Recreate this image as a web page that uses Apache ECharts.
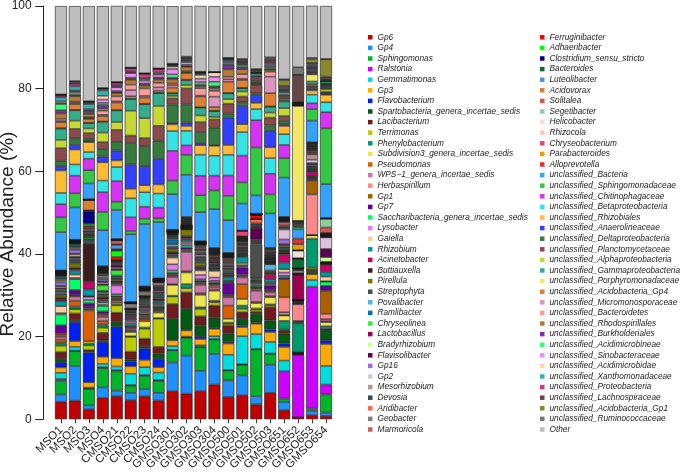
<!DOCTYPE html>
<html><head><meta charset="utf-8">
<script src="https://cdn.jsdelivr.net/npm/echarts@6/dist/echarts.min.js"></script>
<style>html,body{margin:0;padding:0;background:#fff}#c{width:685px;height:473px}</style>
</head><body><div id="c"></div>
<script>
const samples = ['MSO1','MSO2','MSO3','MSO4','CMSO21','CMSO22','CMSO23','CMSO24','GMSO301','GMSO302','GMSO303','GMSO304','GMSO500','GMSO501','GMSO502','GMSO503','GMSO651','GMSO652','GMSO653','GMSO654'];
const yTicks = [0, 20, 40, 60, 80, 100];
const taxa = ['Gp6','Gp4','Sphingomonas','Ralstonia','Gemmatimonas','Gp3','Flavobacterium','Spartobacteria_genera_incertae_sedis','Lacibacterium','Terrimonas','Phenylobacterium','Subdivision3_genera_incertae_sedis','Pseudomonas','WPS\u22121_genera_incertae_sedis','Herbaspirillum','Gp1','Gp7','Saccharibacteria_genera_incertae_sedis','Lysobacter','Gaiella','Rhizobium','Acinetobacter','Buttiauxella','Pirellula','Streptophyta','Povalibacter','Ramlibacter','Chryseolinea','Lactobacillus','Bradyrhizobium','Flavisolibacter','Gp16','Gp2','Mesorhizobium','Devosia','Aridibacter','Geobacter','Marmoricola',
'Ferruginibacter','Adhaeribacter','Clostridium_sensu_stricto','Bacteroides','Luteolibacter','Acidovorax','Solitalea','Segetibacter','Helicobacter','Rhizocola','Chryseobacterium','Parabacteroides','Alloprevotella','unclassified_Bacteria','unclassified_Sphingomonadaceae','unclassified_Chitinophagaceae','unclassified_Betaproteobacteria','unclassified_Rhizobiales','unclassified_Anaerolineaceae','unclassified_Deltaproteobacteria','unclassified_Planctomycetaceae','unclassified_Alphaproteobacteria','unclassified_Gammaproteobacteria','unclassified_Porphyromonadaceae','unclassified_Acidobacteria_Gp4','unclassified_Micromonosporaceae','unclassified_Bacteroidetes','unclassified_Rhodospirillales','unclassified_Burkholderiales','unclassified_Acidimicrobineae','unclassified_Sinobacteraceae','unclassified_Acidimicrobidae','unclassified_Xanthomonadaceae','unclassified_Proteobacteria','unclassified_Lachnospiraceae','unclassified_Acidobacteria_Gp1','unclassified_Ruminococcaceae','Other'];

// relative abundance (%) per sample, in the order of taxa
const MSO1 = [4.23,1.75,3.35,0.4,1.51,1.28,1.28,0.8,1.67,1.51,
0.56,0.24,0.72,0.64,0.32,0.47,2.0,2.63,0.32,1.67,
1.2,0.32,0.63,0.56,0.32,0.4,0.32,0.32,0.32,0.4,
0.16,0.8,0.39,0.4,0.8,0.1,0.08,0.08,0.1,0.08,
0.08,0.08,0.09,0.08,0.08,0.08,0.08,0.08,0.08,0.08,
0.08,9.26,3.58,3.19,2.71,5.42,1.04,1.36,3.03,1.99,
2.71,0.17,1.43,0.27,0.5,1.3,0.8,1.5,0.25,0.4,
0.95,0.4,0.17,0.08,0.08,21.37];
const MSO2 = [4.5,8.4,3.6,0.1,0.9,1.4,4.6,0.5,1.6,1.0,
0.4,0.3,1.4,1.0,0.2,0.2,1.2,2.6,0.3,0.8,
1.0,0.3,0.4,1.0,0.3,0.3,0.3,0.3,0.5,0.5,
0.2,0.9,0.3,0.3,0.9,0.06,0.06,0.06,0.06,0.06,
0.06,0.06,0.06,0.06,0.06,0.06,0.06,0.06,0.06,0.06,
0.06,7.8,3.4,4.3,2.7,3.6,1.1,1.6,2.3,2.0,
2.5,0.1,1.4,0.3,0.3,1.3,0.4,0.5,0.3,0.2,
1.0,0.6,0.3,0.2,0.2,18.1];
const MSO3 = [2.4,0.95,4.0,0.1,0.2,1.3,7.2,0.3,0.3,1.1,
0.5,0.5,7.5,0.3,0.3,0.2,0.9,0.8,0.8,0.1,
1.7,1.8,9.2,0.3,0.3,0.3,0.2,0.4,0.2,0.2,
0.2,0.2,0.2,0.2,0.5,0.3,0.3,0.3,0.3,0.4,
3.1,0.1,0.1,2.5,0.03,0.03,0.03,0.03,0.03,0.03,
0.03,3.8,3.2,2.8,1.6,2.4,0.2,0.6,1.4,1.1,
1.3,0.1,0.9,0.2,0.2,0.8,0.4,0.3,0.2,0.3,
1.2,0.3,0.2,0.1,0.1,23.0];
const MSO4 = [5.2,2.5,4.65,0.25,0.8,1.7,3.6,0.4,1.8,1.25,
0.5,0.3,0.8,1.0,0.35,0.4,0.6,1.3,0.3,0.5,
0.5,0.3,0.6,0.4,0.3,0.4,0.4,1.3,0.3,0.4,
0.3,0.5,0.3,0.5,0.6,0.11,0.11,0.11,0.11,0.11,
0.11,0.11,0.11,0.11,0.11,0.11,0.11,0.11,0.11,0.11,
0.11,8.7,4.4,4.8,2.8,4.4,1.4,1.8,1.7,2.3,
2.6,0.1,1.3,0.3,1.0,0.6,0.8,0.5,0.8,0.9,
1.3,0.4,0.1,0.05,0.05,19.8];
const CMSO21 = [5.57,1.35,4.65,0.3,0.9,2.0,7.6,1.2,2.2,1.8,
0.2,0.4,0.6,0.2,0.2,0.3,0.3,0.5,2.1,0.3,
0.3,0.2,0.4,0.3,0.3,0.3,0.3,1.3,0.4,0.3,
0.5,0.2,0.2,0.2,0.3,0.1,0.1,0.1,0.8,1.5,
0.2,0.2,1.0,0.2,0.9,0.06,0.06,0.06,0.06,0.06,
0.06,7.0,2.0,5.0,3.4,1.6,2.4,2.1,2.9,1.9,
2.8,0.1,1.8,0.3,1.2,0.8,0.2,0.3,0.9,0.2,
0.3,0.6,0.1,0.05,0.05,18.4];
const CMSO22 = [4.6,1.8,1.7,0.2,2.7,1.8,1.2,0.5,1.85,3.55,
0.2,1.0,0.3,0.3,0.3,0.3,0.4,0.4,0.5,0.3,
0.4,0.3,0.3,0.3,0.2,0.3,0.2,0.2,0.2,0.2,
0.05,0.05,0.05,0.05,0.05,0.05,1.2,0.1,0.02,0.02,
0.02,0.02,0.02,0.02,0.02,0.02,0.02,0.02,0.02,0.02,
0.02,16.4,0.8,3.3,4.6,2.3,5.9,5.2,1.8,6.0,
2.8,0.1,0.6,1.5,1.3,1.2,0.3,0.2,1.1,0.2,
0.2,0.8,0.05,0.05,0.05,14.9];
const CMSO23 = [5.6,1.7,3.2,0.2,1.9,1.75,2.75,0.6,1.8,2.4,
0.3,1.5,0.5,0.3,0.3,0.3,0.3,0.4,0.3,0.3,
0.4,0.4,0.3,0.3,0.2,0.3,0.2,0.3,0.2,0.2,
0.15,0.15,0.1,0.1,0.1,0.1,1.0,0.2,0.08,0.08,
0.08,0.08,0.08,0.08,0.08,0.08,0.08,0.08,0.08,0.08,
0.08,15.1,1.3,2.9,3.5,1.7,4.6,4.8,2.0,4.8,
3.4,0.1,1.5,0.4,1.8,0.7,0.3,0.2,0.7,0.3,
0.3,1.0,0.1,0.05,0.05,16.3];
const CMSO24 = [4.55,1.85,2.9,0.2,1.8,1.3,2.0,1.3,1.6,6.8,
0.2,1.3,0.3,0.3,0.2,0.3,0.3,0.3,0.3,0.3,
0.4,0.3,0.4,0.3,0.2,0.3,0.2,0.3,0.3,0.3,
0.2,0.2,0.2,0.2,0.2,0.2,0.8,0.1,0.07,0.07,
0.07,0.07,0.07,0.07,0.07,0.07,0.07,0.07,0.07,0.07,
0.07,13.6,0.9,2.6,3.4,2.2,6.2,4.4,3.6,4.8,
3.1,0.1,0.5,0.8,1.1,0.8,0.3,0.2,0.7,0.2,
0.3,0.8,0.1,0.05,0.05,15.1];
const GMSO301 = [6.8,6.9,3.0,0.1,0.9,1.4,0.2,5.0,3.6,1.8,
0.2,2.6,0.2,1.7,0.3,0.3,0.4,0.6,1.5,1.6,
0.4,0.4,0.6,0.6,0.6,0.6,1.2,0.3,0.2,0.2,
0.2,0.2,0.1,0.1,0.1,0.1,0.1,0.1,0.05,0.05,
0.05,0.05,0.05,0.05,0.05,0.05,0.05,0.05,0.05,0.05,
0.05,8.6,3.3,7.2,4.8,1.6,0.3,4.5,1.5,0.6,
0.6,0.1,1.3,0.6,0.4,1.0,0.4,0.8,1.3,0.6,
0.2,0.2,0.1,0.1,0.1,13.9];
const GMSO302 = [6.2,9.2,4.3,0.1,0.2,1.5,0.2,5.0,4.0,1.0,
1.0,2.8,0.3,4.7,0.3,0.3,0.4,0.5,0.5,0.4,
0.5,0.4,0.5,1.6,0.08,0.08,0.08,0.08,0.08,0.08,
0.08,0.08,0.08,0.08,0.08,0.08,0.08,0.08,0.15,0.15,
0.15,0.15,0.15,0.15,0.15,0.15,0.15,0.15,0.15,0.15,
0.15,10.2,4.8,2.3,3.5,1.2,0.8,4.4,3.9,0.8,
1.2,0.1,1.6,0.2,0.3,1.0,0.2,0.3,0.6,0.3,
0.2,0.2,0.3,0.2,0.2,12.2];
const GMSO303 = [6.8,4.9,5.7,0.1,0.4,1.5,0.7,2.6,2.2,1.8,
0.4,3.0,0.4,2.0,0.3,0.3,0.4,0.4,1.0,1.1,
0.3,0.3,0.4,0.9,0.3,0.3,0.4,0.2,0.3,0.4,
0.3,0.2,0.3,0.3,0.4,0.3,0.3,0.3,0.07,0.07,
0.07,0.07,0.07,0.07,0.07,0.07,0.07,0.07,0.07,0.07,
0.07,7.0,4.1,4.7,5.1,2.3,0.5,2.7,2.4,1.6,
1.9,0.1,2.6,0.2,1.8,0.5,0.4,0.6,0.8,0.9,
0.3,0.2,0.1,0.1,0.1,15.9];
const GMSO304 = [8.4,7.4,3.5,0.1,0.7,1.8,0.2,2.5,2.9,0.8,
0.4,2.4,0.3,0.6,0.4,0.3,0.4,0.4,0.8,1.6,
0.3,0.2,0.2,0.3,0.2,0.2,0.2,0.3,0.2,0.2,
0.2,0.2,0.2,0.2,0.2,0.3,0.2,0.2,0.12,0.12,
0.12,0.12,0.12,0.12,0.12,0.12,0.12,0.12,0.12,0.12,
0.12,9.4,4.5,3.6,4.8,2.4,0.2,4.2,2.0,0.6,
1.4,0.1,0.9,2.5,1.4,0.6,0.5,1.1,1.2,1.1,
0.02,0.02,0.02,0.02,0.02,15.9];
const GMSO500 = [5.4,4.0,2.4,0.1,3.7,2.7,0.4,2.0,2.0,0.4,
0.3,0.9,3.2,2.0,0.3,0.3,2.8,0.2,0.2,0.2,
0.8,0.3,0.3,0.3,0.2,0.3,0.3,0.3,0.3,0.3,
0.2,0.3,0.3,0.2,0.3,0.3,0.3,0.3,0.09,0.09,
0.09,0.09,0.09,0.09,0.09,0.09,0.09,0.09,0.09,0.09,
0.09,7.9,5.9,4.9,5.0,2.4,6.6,1.0,2.4,1.1,
1.4,0.1,2.7,0.6,0.6,1.8,1.0,0.3,0.4,0.3,
0.3,0.2,0.1,0.1,0.1,12.5];
const GMSO501 = [5.8,4.8,2.6,0.1,6.8,2.2,0.4,1.6,1.6,0.8,
0.8,1.6,3.6,1.6,0.3,0.4,1.7,0.3,0.3,0.5,
1.5,0.2,0.3,0.2,0.2,0.2,0.3,0.2,0.2,0.2,
0.2,0.2,0.3,0.2,0.2,0.2,0.3,0.2,0.12,0.12,
0.12,0.12,0.12,0.12,0.12,0.12,0.12,0.12,1.2,0.1,
0.1,6.5,5.1,6.5,5.7,1.9,4.4,0.9,1.4,1.2,
0.8,0.1,1.9,0.3,1.1,1.2,0.5,0.4,0.3,0.2,
0.2,0.2,0.3,0.2,0.2,12.8];
const GMSO502 = [3.6,2.0,11.3,0.1,3.6,2.5,0.3,2.1,0.5,0.5,
0.3,1.3,0.3,2.7,0.3,0.3,0.3,0.3,0.3,0.3,
0.3,0.3,0.3,0.3,8.2,0.3,0.2,0.2,0.3,0.2,
2.8,0.2,0.2,0.2,0.5,1.0,0.05,0.05,0.9,0.03,
0.03,0.03,0.03,0.03,0.03,0.03,0.03,0.03,0.03,0.03,
0.03,4.4,11.6,6.6,2.7,1.5,1.9,0.4,2.0,0.2,
0.3,0.1,0.3,0.3,0.3,0.4,0.4,0.4,0.2,0.1,
0.1,0.2,0.3,0.2,0.1,15.2];
const GMSO503 = [6.4,6.8,2.6,0.1,2.8,2.4,0.6,2.2,3.2,0.4,
0.3,1.7,0.3,0.9,0.3,0.3,1.0,0.3,0.3,0.3,
0.7,1.2,0.3,0.3,0.3,1.5,0.1,0.2,0.1,0.1,
0.2,0.1,0.1,0.2,0.1,0.1,0.2,0.1,0.2,0.2,
0.1,0.2,0.2,0.2,0.2,0.2,0.2,0.2,0.2,0.2,
0.1,8.3,4.6,5.0,3.8,2.6,4.0,1.3,1.9,1.2,
1.4,0.1,3.2,4.0,1.2,0.4,0.3,0.4,0.3,0.3,
0.4,0.3,0.4,0.3,0.4,12.4];
const GMSO651 = [2.2,2.0,0.8,6.6,2.6,3.3,0.8,2.4,0.8,0.2,
2.1,1.3,0.1,0.7,3.6,4.4,0.4,0.4,0.8,0.8,
1.6,2.0,0.4,0.2,0.2,0.2,0.2,0.3,0.3,0.3,
0.4,1.1,2.4,0.3,0.2,0.2,0.3,0.8,0.2,0.09,
0.09,0.09,0.09,0.09,0.09,0.09,0.09,0.09,0.09,0.09,
0.09,9.5,4.7,3.2,2.6,2.0,0.4,0.8,1.2,1.9,
1.6,0.2,0.3,0.3,0.3,0.3,0.3,0.5,0.2,0.2,
0.2,0.3,0.7,1.4,0.2,17.7];
const GMSO652 = [0.4,0.05,0.05,15.1,0.1,0.1,0.1,0.1,0.1,0.1,
7.0,0.2,0.2,0.2,4.0,0.15,0.15,0.15,0.15,0.15,
0.15,0.15,0.02,0.02,0.02,0.02,0.02,0.02,6.0,0.1,
0.1,0.1,0.1,0.6,0.2,0.1,0.2,0.05,0.02,0.02,
0.02,2.2,0.05,0.05,0.05,0.05,1.8,0.1,0.05,1.4,
1.4,2.2,0.5,0.25,0.25,0.25,0.25,0.25,0.25,0.05,
0.05,27.8,0.09,0.09,0.09,0.09,0.09,0.09,0.09,0.09,
0.09,0.09,6.6,0.05,1.8,14.8];
const GMSO653 = [1.0,1.0,0.6,29.5,1.6,1.4,0.3,0.5,0.4,0.4,
7.0,0.8,0.05,0.05,9.8,3.4,0.2,0.2,0.2,0.2,
0.2,1.0,0.3,0.2,0.2,0.2,0.2,0.2,0.2,0.3,
0.2,0.2,0.8,1.3,0.2,0.3,0.2,0.3,0.15,0.15,
0.2,0.15,0.15,0.15,0.15,0.15,0.15,0.15,0.15,0.15,
0.1,5.2,2.8,1.4,2.1,1.0,0.4,0.4,0.4,0.3,
0.7,1.7,0.2,0.2,0.2,0.3,0.3,0.2,0.2,0.2,
0.3,0.3,0.4,0.9,0.3,12.6];
const GMSO654 = [0.8,0.8,4.4,2.4,4.5,5.3,0.9,2.3,0.3,0.1,
0.7,1.0,0.2,0.5,1.3,5.6,1.2,1.0,0.1,1.1,
1.2,1.6,0.2,0.1,0.1,0.1,0.1,0.1,0.1,1.1,
1.9,0.1,2.8,0.1,0.1,0.1,0.1,0.1,0.1,0.1,
0.1,0.1,0.1,0.1,1.3,2.1,0.04,0.04,0.04,0.04,
0.04,8.2,13.5,3.9,2.4,1.8,0.2,0.3,0.2,0.6,
0.3,0.2,0.2,0.2,0.2,0.2,0.2,0.4,0.1,0.1,
0.2,0.2,0.6,4.2,0.1,12.8];

const sampleValues = [MSO1,MSO2,MSO3,MSO4,CMSO21,CMSO22,CMSO23,CMSO24,GMSO301,GMSO302,GMSO303,GMSO304,GMSO500,GMSO501,GMSO502,GMSO503,GMSO651,GMSO652,GMSO653,GMSO654];

const palette = ['#C00000','#1E90FF','#00B32C','#CC00FF','#00DDDD','#FFAA00','#0020F0','#005A14','#701C1C','#BBCC00','#00996B','#EEE64D','#D95F02','#CC79A7','#FF8888','#AA6000','#660099','#00FF66','#E87AF0','#FFCC99','#009999','#CC0066','#3C1E1E','#7A7A00','#4D4D4D','#56B4E9','#0072B2','#33EE33','#990050','#CCFF99','#5E0052','#A070E0','#DCC0DC','#BC8F8F','#2F4F4F','#FF6347','#887878','#CD5C5C',
'#FF0000','#00FF00','#000080','#0A6B34','#4D94DB','#DE8033','#D95555','#8FCF9F','#F5E1D7','#FFC6B5','#E6457D','#E69F00','#DB3236','#35A2FF','#35C845','#D634F5','#33E3E6','#FFBB33','#3340FF','#347C3C','#8C4A4A','#C6D933','#33AD8A','#F2E866','#E08033','#DB95BF','#FF9A9A','#B87B33','#7A33AA','#33FF70','#EE8CFF','#FFD4A8','#33B3B3','#DB338C','#664747','#888830','#777777','#BEBEBE'];

const FONT = 'Liberation Sans, Arial, Helvetica, sans-serif';
const series = taxa.map((name, i) => ({
  name: name,
  type: 'bar',
  stack: 'total',
  barWidth: 12,
  data: sampleValues.map(v => v[i]),
  itemStyle: { color: palette[i], borderColor: '#1a1a1a', borderWidth: 0.6 },
  emphasis: { disabled: true }
}));

const legendBase = {
  orient: 'vertical', top: 32, padding: 0, itemGap: 0,
  itemWidth: 4.5, itemHeight: 4.5, icon: 'rect', selectedMode: false,
  itemStyle: { borderWidth: 0 },
  textStyle: { fontSize: 8.3, fontStyle: 'italic', color: '#222', lineHeight: 10.6, fontFamily: FONT }
};

const chart = echarts.init(document.getElementById('c'), null, { renderer: 'canvas' });
chart.setOption({
  animation: false,
  backgroundColor: '#ffffff',
  grid: { left: 54, right: 352, top: 5, bottom: 50, containLabel: false },
  xAxis: {
    type: 'category', data: samples,
    offset: 4,
    axisLine: { show: false },
    axisTick: { show: true, alignWithLabel: true, length: 4, lineStyle: { color: '#333' } },
    axisLabel: { rotate: 45, fontSize: 11.5, color: '#222', margin: 5, interval: 0, fontFamily: FONT }
  },
  yAxis: {
    type: 'value', min: 0, max: 100, interval: 20,
    offset: 10.7,
    axisLine: { show: true, lineStyle: { color: '#222', width: 1 } },
    axisTick: { show: true, length: 8, lineStyle: { color: '#222' } },
    axisLabel: { fontSize: 12, color: '#222', margin: 11.6, fontFamily: FONT,
      customValues: yTicks },
    splitLine: { show: false }
  },
  legend: [
    Object.assign({}, legendBase, { left: 368, data: taxa.slice(0, 38) }),
    Object.assign({}, legendBase, { left: 540, data: taxa.slice(38) })
  ],
  graphic: [{
    type: 'text', x: 7.5, y: 234, rotation: Math.PI / 2,
    style: { text: 'Relative Abundance (%)', font: '19px ' + FONT, fill: '#222', textAlign: 'center', textVerticalAlign: 'middle' }
  }],
  series: series
});
</script></body></html>
